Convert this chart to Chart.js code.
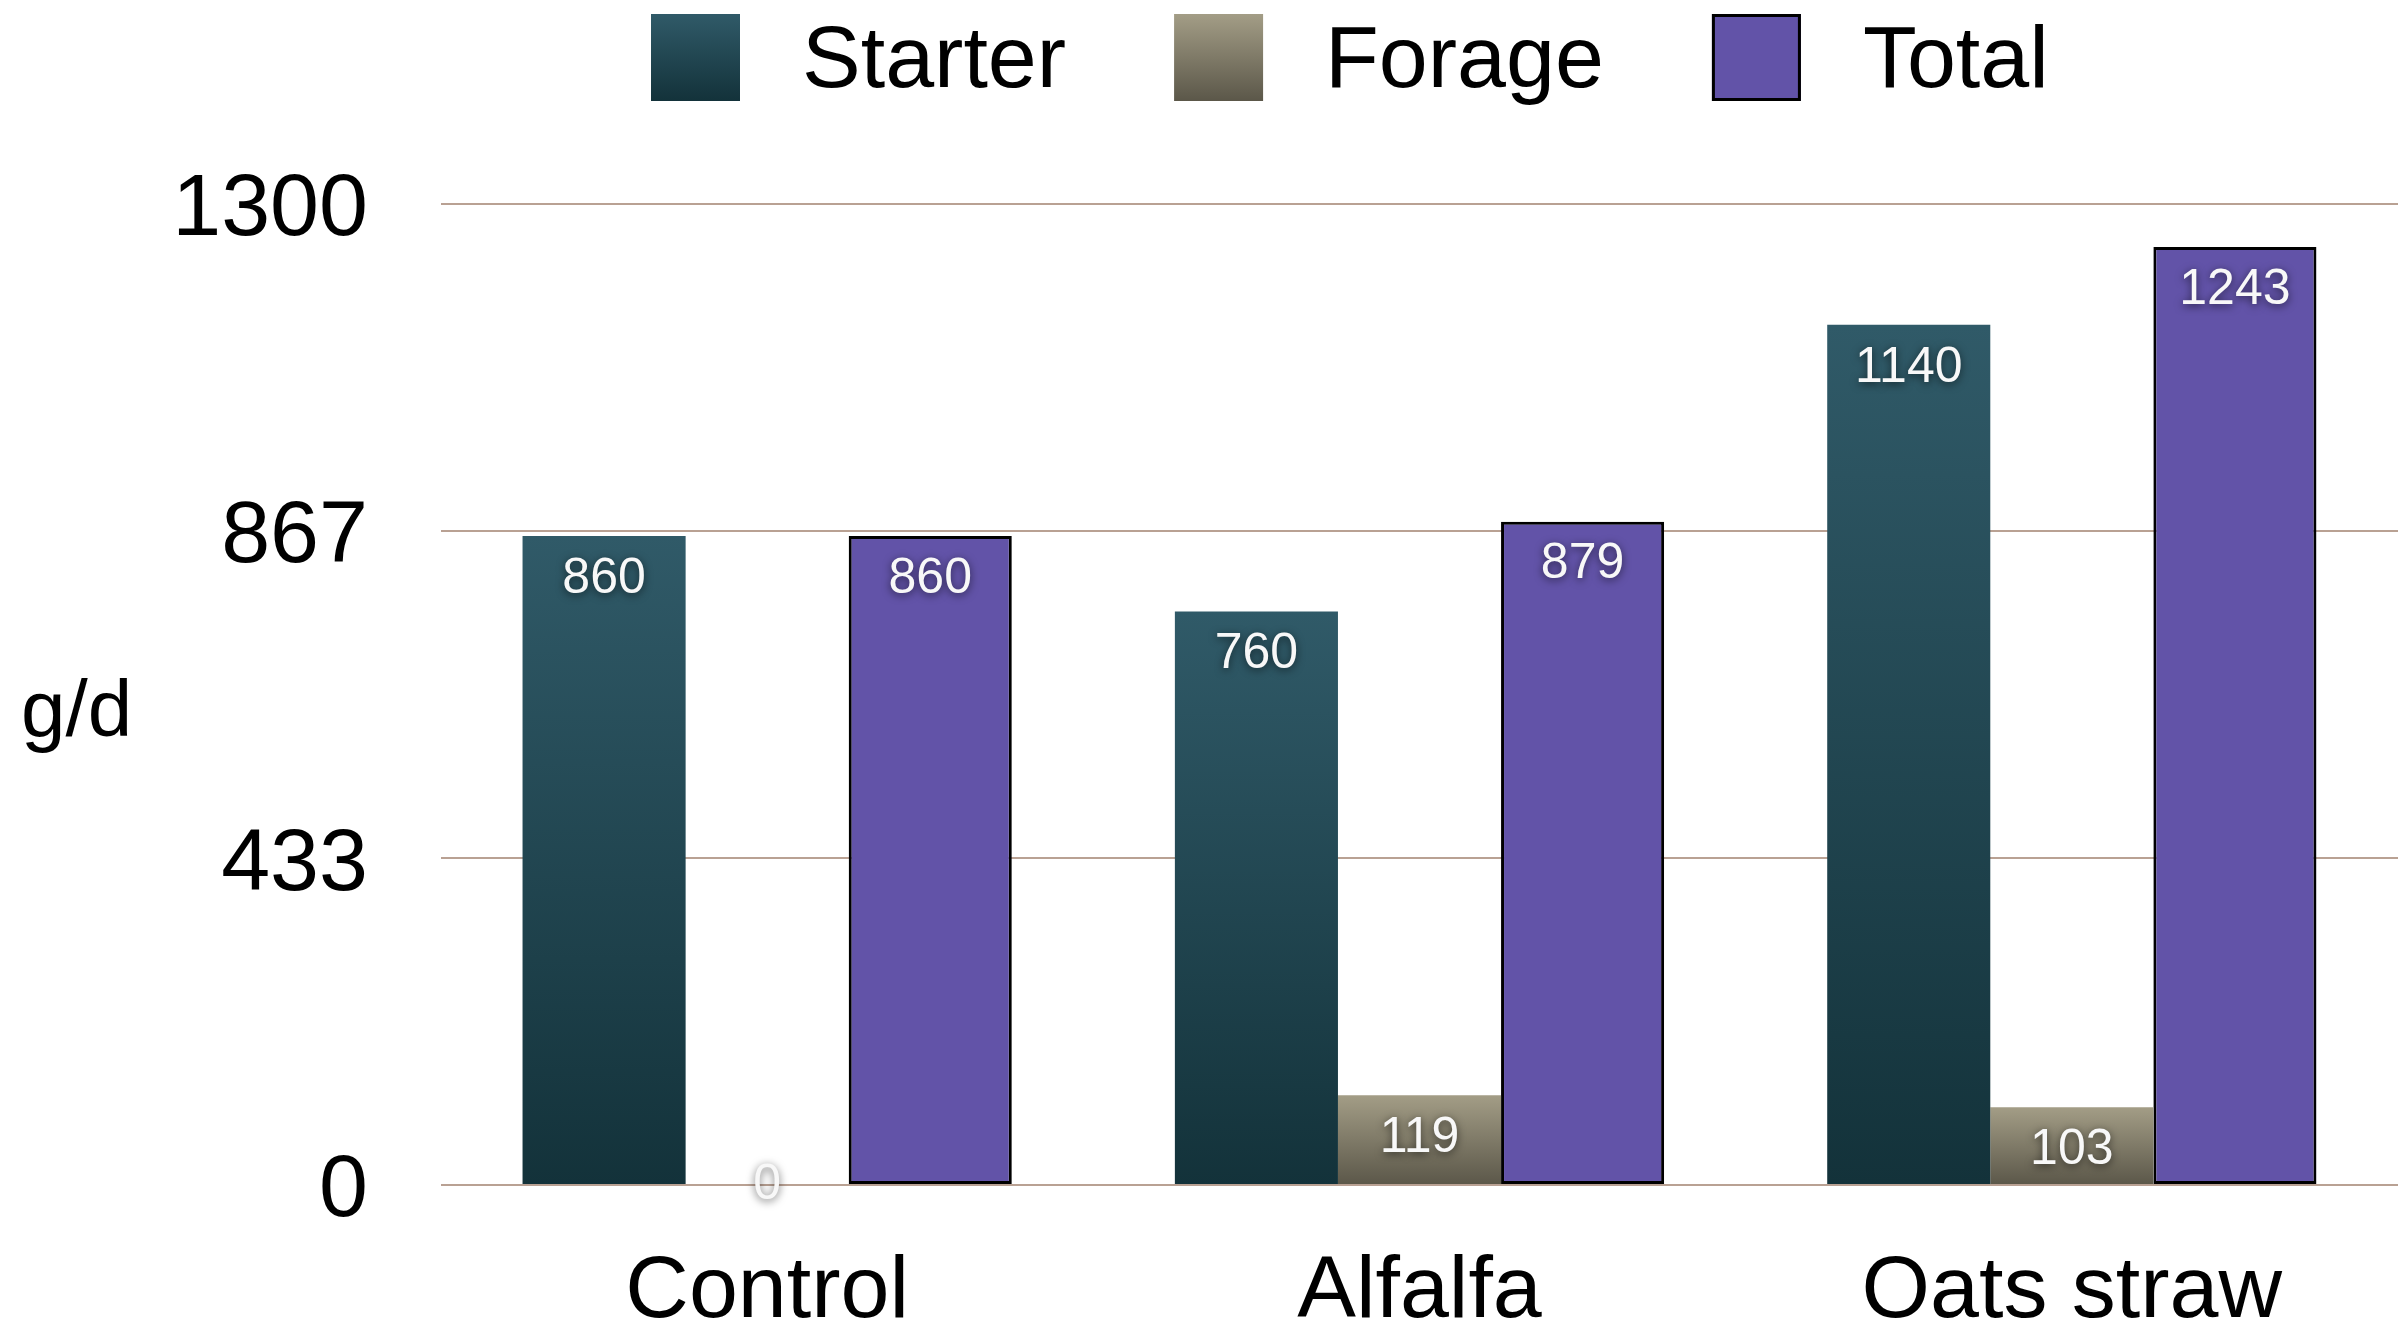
<!DOCTYPE html>
<html>
<head>
<meta charset="utf-8">
<title>Intake g/d</title>
<script src="https://cdn.jsdelivr.net/npm/chart.js@4/dist/chart.umd.min.js"></script>
<style>
  html, body { margin: 0; padding: 0; background: #fff; }
  #wrap { width: 2403px; height: 1325px; position: relative; }
</style>
</head>
<body>
<div id="wrap"><canvas id="intakeChart"></canvas></div>
<script>
var groups = ['Control', 'Alfalfa', 'Oats straw'];
var starter = [860, 760, 1140];
var forage = [0, 119, 103];
var total = [860, 879, 1243];
var yTicks = [0, 433, 867, 1300];
var yUnit = 'g/d';

var FONT = '"Liberation Sans", Arial, Helvetica, sans-serif';
var STARTER_TOP = '#305a68', STARTER_BOTTOM = '#13323a';
var FORAGE_TOP = '#a39d86', FORAGE_BOTTOM = '#5b5749';
var TOTAL_FILL = '#6253a8';
var GRID = '#b9a193';

// vertical gradient running from each bar's top down to the zero line
function barGradient(top, bottom) {
  return function(context) {
    var chart = context.chart;
    if (!chart.chartArea || context.type !== 'data') return top;
    var scale = chart.scales.y;
    var yTop = scale.getPixelForValue(context.raw);
    var yBase = scale.getPixelForValue(0);
    if (yBase - yTop < 1) return bottom;
    var g = chart.ctx.createLinearGradient(0, yTop, 0, yBase);
    g.addColorStop(0, top);
    g.addColorStop(1, bottom);
    return g;
  };
}

// legend row across the top
var topLegend = {
  id: 'topLegend',
  afterDraw: function(chart) {
    var ctx = chart.ctx;
    var x = 651, boxTop = 14, boxW = 89, boxH = 87;
    var swatches = [
      [STARTER_TOP, STARTER_BOTTOM],
      [FORAGE_TOP, FORAGE_BOTTOM],
      [TOTAL_FILL, TOTAL_FILL]
    ];
    ctx.save();
    ctx.font = '88px ' + FONT;
    ctx.textBaseline = 'middle';
    ctx.textAlign = 'left';
    chart.data.datasets.forEach(function(ds, i) {
      var g = ctx.createLinearGradient(0, boxTop, 0, boxTop + boxH);
      g.addColorStop(0, swatches[i][0]);
      g.addColorStop(1, swatches[i][1]);
      ctx.fillStyle = g;
      ctx.fillRect(x, boxTop, boxW, boxH);
      if (ds.borderWidth) {
        ctx.lineWidth = ds.borderWidth;
        ctx.strokeStyle = ds.borderColor;
        ctx.strokeRect(x + 1.5, boxTop + 1.5, boxW - 3, boxH - 3);
      }
      ctx.fillStyle = '#000';
      var tx = x + boxW + 62;
      ctx.fillText(ds.label, tx, boxTop + boxH / 2 + 5);
      x = tx + ctx.measureText(ds.label).width + 108;
    });
    // unit label beside the value axis
    ctx.font = '80px ' + FONT;
    ctx.textBaseline = 'alphabetic';
    ctx.fillText(yUnit, chart.scales.y.left + 21, 736);
    ctx.restore();
  }
};

// white value labels with a soft shadow near the top of each bar
var valueLabels = {
  id: 'valueLabels',
  afterDatasetsDraw: function(chart) {
    var ctx = chart.ctx;
    ctx.save();
    ctx.font = '50px ' + FONT;
    ctx.textAlign = 'center';
    ctx.textBaseline = 'middle';
    ctx.fillStyle = '#f8f8f8';
    ctx.shadowColor = 'rgba(0,0,0,0.6)';
    ctx.shadowBlur = 8;
    ctx.shadowOffsetY = 2;
    chart.data.datasets.forEach(function(ds, i) {
      chart.getDatasetMeta(i).data.forEach(function(bar, j) {
        var y = Math.min(bar.y + 43, (bar.y + bar.base) / 2 + 6);
        if (bar.base - bar.y < 1) y = bar.base;
        ctx.fillText(String(ds.data[j]), bar.x, y);
      });
    });
    ctx.restore();
  }
};

var ctx = document.getElementById('intakeChart').getContext('2d');
var intakeChart = new Chart(ctx, {
  type: 'bar',
  data: {
    labels: groups,
    datasets: [
      {
        label: 'Starter',
        data: starter,
        backgroundColor: barGradient(STARTER_TOP, STARTER_BOTTOM),
        borderWidth: 0
      },
      {
        label: 'Forage',
        data: forage,
        backgroundColor: barGradient(FORAGE_TOP, FORAGE_BOTTOM),
        borderWidth: 0
      },
      {
        label: 'Total',
        data: total,
        backgroundColor: TOTAL_FILL,
        borderColor: '#000',
        borderWidth: 3,
        borderSkipped: false
      }
    ]
  },
  options: {
    responsive: true,
    maintainAspectRatio: false,
    animation: false,
    layout: { padding: { top: 204, right: 5, bottom: 0, left: 0 } },
    datasets: { bar: { categoryPercentage: 0.75, barPercentage: 1.0 } },
    plugins: {
      legend: { display: false },
      tooltip: { enabled: false }
    },
    scales: {
      x: {
        grid: { display: false, drawTicks: false },
        border: { display: false },
        afterFit: function(scale) { scale.height = 140; },
        ticks: {
          padding: 55,
          color: '#000',
          maxRotation: 0,
          font: { family: FONT, size: 88 }
        }
      },
      y: {
        min: 0,
        max: 1300,
        afterBuildTicks: function(scale) {
          scale.ticks = yTicks.map(function(v) { return { value: v }; });
        },
        afterFit: function(scale) { scale.width = 441; },
        grid: { color: GRID, lineWidth: 2, drawTicks: false },
        border: { display: false },
        ticks: {
          padding: 73,
          labelOffset: 7,
          color: '#000',
          font: { family: FONT, size: 88 },
          callback: function(value) { return String(value); }
        }
      }
    }
  },
  plugins: [topLegend, valueLabels]
});
</script>
</body>
</html>
